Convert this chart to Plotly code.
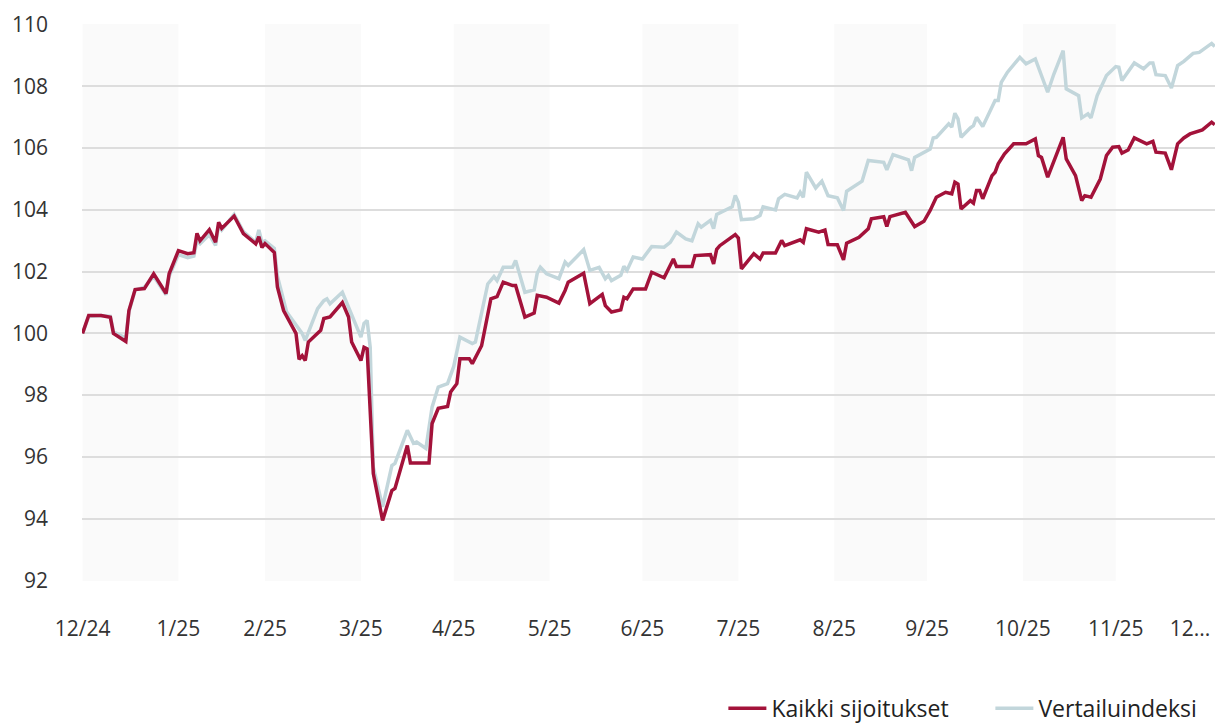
import plotly.graph_objects as go

# ---- data ----
red_dates = [
    "2024-12-31", "2025-01-02", "2025-01-06", "2025-01-09", "2025-01-10", "2025-01-14", "2025-01-15",
    "2025-01-17", "2025-01-20", "2025-01-23", "2025-01-27", "2025-01-28", "2025-01-31", "2025-02-03",
    "2025-02-05", "2025-02-06", "2025-02-07", "2025-02-10", "2025-02-12", "2025-02-13", "2025-02-14",
    "2025-02-18", "2025-02-21", "2025-02-25", "2025-02-26", "2025-02-27", "2025-02-28", "2025-03-03",
    "2025-03-04", "2025-03-06", "2025-03-10", "2025-03-11", "2025-03-12", "2025-03-13", "2025-03-14",
    "2025-03-18", "2025-03-19", "2025-03-21", "2025-03-25", "2025-03-27", "2025-03-28", "2025-03-31",
    "2025-04-01", "2025-04-02", "2025-04-04", "2025-04-07", "2025-04-10", "2025-04-11", "2025-04-15",
    "2025-04-16", "2025-04-22", "2025-04-23", "2025-04-25", "2025-04-28", "2025-04-29", "2025-05-01",
    "2025-05-02", "2025-05-05", "2025-05-06", "2025-05-08", "2025-05-09", "2025-05-12", "2025-05-14",
    "2025-05-16", "2025-05-19", "2025-05-20", "2025-05-23", "2025-05-26", "2025-05-27", "2025-05-30",
    "2025-06-03", "2025-06-05", "2025-06-06", "2025-06-11", "2025-06-13", "2025-06-17", "2025-06-18",
    "2025-06-20", "2025-06-23", "2025-06-24", "2025-06-25", "2025-06-27", "2025-07-01", "2025-07-03",
    "2025-07-07", "2025-07-10", "2025-07-11", "2025-07-16", "2025-07-17", "2025-07-22", "2025-07-23",
    "2025-07-24", "2025-07-25", "2025-07-30", "2025-07-31", "2025-08-01", "2025-08-05", "2025-08-07",
    "2025-08-08", "2025-08-12", "2025-08-14", "2025-08-15", "2025-08-20", "2025-08-21", "2025-08-22",
    "2025-08-26", "2025-08-28", "2025-08-29", "2025-09-01", "2025-09-03", "2025-09-04", "2025-09-08",
    "2025-09-11", "2025-09-12", "2025-09-16", "2025-09-17", "2025-09-18", "2025-09-23", "2025-09-24",
    "2025-09-26", "2025-09-29", "2025-10-01", "2025-10-03", "2025-10-06", "2025-10-08", "2025-10-09",
    "2025-10-10", "2025-10-11", "2025-10-14", "2025-10-15", "2025-10-16", "2025-10-17", "2025-10-18",
    "2025-10-21", "2025-10-22", "2025-10-23", "2025-10-25", "2025-10-28", "2025-11-01", "2025-11-04",
    "2025-11-05", "2025-11-06", "2025-11-08", "2025-11-10", "2025-11-13", "2025-11-14", "2025-11-17",
    "2025-11-19", "2025-11-20", "2025-11-22", "2025-11-25", "2025-11-27", "2025-11-29", "2025-12-01",
    "2025-12-02", "2025-12-04", "2025-12-06", "2025-12-10", "2025-12-12", "2025-12-13", "2025-12-16",
    "2025-12-18", "2025-12-20", "2025-12-22", "2025-12-24", "2025-12-28", "2025-12-31", "2026-01-01",
]
red_values = [
    100.0, 100.58, 100.58, 100.52, 100.0, 99.74, 100.74,
    101.42, 101.45, 101.93, 101.29, 101.93, 102.68, 102.58,
    102.61, 103.24, 103.0, 103.36, 102.95, 103.6, 103.4,
    103.8, 103.23, 102.9, 103.13, 102.78, 102.91, 102.62,
    101.5, 100.74, 100.0, 99.16, 99.28, 99.12, 99.72,
    100.1, 100.48, 100.53, 101.0, 100.53, 99.72, 99.12,
    99.55, 99.5, 95.46, 93.94, 94.91, 94.98, 96.37,
    95.8, 95.8, 97.08, 97.57, 97.63, 98.1, 98.37,
    99.18, 99.18, 99.02, 99.39, 99.6, 101.12, 101.19,
    101.66, 101.55, 101.55, 100.53, 100.66, 101.23, 101.17,
    100.98, 101.39, 101.66, 101.95, 100.96, 101.26, 100.9,
    100.69, 100.76, 101.17, 101.12, 101.44, 101.44, 101.98,
    101.8, 102.41, 102.17, 102.17, 102.52, 102.55, 102.25,
    102.72, 102.84, 103.2, 103.09, 102.09, 102.58, 102.41,
    102.6, 102.6, 103.01, 102.84, 103.03, 102.95, 103.39,
    103.28, 103.35, 102.88, 102.87, 102.38, 102.92, 103.11,
    103.39, 103.71, 103.78, 103.46, 103.78, 103.92, 103.78,
    103.46, 103.63, 103.98, 104.41, 104.57, 104.52, 104.9,
    104.84, 104.03, 104.3, 104.22, 104.63, 104.63, 104.36,
    105.11, 105.22, 105.49, 105.81, 106.14, 106.14, 106.3,
    105.76, 105.7, 105.06, 105.6, 106.35, 105.65, 105.11,
    104.3, 104.46, 104.41, 105.0, 105.76, 106.03, 106.05,
    105.84, 105.94, 106.33, 106.14, 106.22, 105.87, 105.84,
    105.3, 106.14, 106.33, 106.46, 106.59, 106.84, 106.76,
]

blue_dates = [
    "2024-12-31", "2025-01-02", "2025-01-06", "2025-01-09", "2025-01-10", "2025-01-14", "2025-01-15",
    "2025-01-17", "2025-01-20", "2025-01-23", "2025-01-27", "2025-01-28", "2025-01-31", "2025-02-03",
    "2025-02-05", "2025-02-06", "2025-02-07", "2025-02-10", "2025-02-12", "2025-02-13", "2025-02-14",
    "2025-02-18", "2025-02-21", "2025-02-25", "2025-02-26", "2025-02-27", "2025-02-28", "2025-03-03",
    "2025-03-04", "2025-03-06", "2025-03-07", "2025-03-12", "2025-03-13", "2025-03-17", "2025-03-19",
    "2025-03-20", "2025-03-21", "2025-03-25", "2025-03-28", "2025-03-31", "2025-04-01", "2025-04-02",
    "2025-04-03", "2025-04-04", "2025-04-07", "2025-04-10", "2025-04-11", "2025-04-15", "2025-04-17",
    "2025-04-18", "2025-04-21", "2025-04-23", "2025-04-25", "2025-04-28", "2025-04-30", "2025-05-02",
    "2025-05-06", "2025-05-07", "2025-05-11", "2025-05-13", "2025-05-14", "2025-05-16", "2025-05-19",
    "2025-05-20", "2025-05-23", "2025-05-26", "2025-05-27", "2025-05-28", "2025-05-30", "2025-06-03",
    "2025-06-05", "2025-06-06", "2025-06-11", "2025-06-13", "2025-06-16", "2025-06-18", "2025-06-19",
    "2025-06-20", "2025-06-23", "2025-06-24", "2025-06-25", "2025-06-27", "2025-06-30", "2025-07-03",
    "2025-07-07", "2025-07-09", "2025-07-11", "2025-07-14", "2025-07-16", "2025-07-18", "2025-07-19",
    "2025-07-22", "2025-07-23", "2025-07-24", "2025-07-29", "2025-07-30", "2025-07-31", "2025-08-01",
    "2025-08-05", "2025-08-07", "2025-08-08", "2025-08-12", "2025-08-13", "2025-08-15", "2025-08-19",
    "2025-08-20", "2025-08-21", "2025-08-22", "2025-08-25", "2025-08-27", "2025-08-29", "2025-09-01",
    "2025-09-03", "2025-09-04", "2025-09-09", "2025-09-11", "2025-09-16", "2025-09-17", "2025-09-19",
    "2025-09-24", "2025-09-25", "2025-09-26", "2025-10-01", "2025-10-02", "2025-10-03", "2025-10-07",
    "2025-10-08", "2025-10-09", "2025-10-10", "2025-10-11", "2025-10-14", "2025-10-15", "2025-10-16",
    "2025-10-18", "2025-10-22", "2025-10-23", "2025-10-24", "2025-10-26", "2025-10-30", "2025-11-01",
    "2025-11-04", "2025-11-06", "2025-11-08", "2025-11-10", "2025-11-13", "2025-11-14", "2025-11-18",
    "2025-11-19", "2025-11-21", "2025-11-22", "2025-11-24", "2025-11-27", "2025-11-30", "2025-12-01",
    "2025-12-02", "2025-12-06", "2025-12-09", "2025-12-11", "2025-12-12", "2025-12-13", "2025-12-16",
    "2025-12-18", "2025-12-20", "2025-12-22", "2025-12-25", "2025-12-27", "2025-12-31", "2026-01-01",
]
blue_values = [
    100.0, 100.55, 100.58, 100.55, 100.05, 99.85, 100.7,
    101.4, 101.5, 101.85, 101.25, 101.85, 102.55, 102.45,
    102.5, 103.0, 102.9, 103.2, 102.85, 103.5, 103.35,
    103.85, 103.3, 102.95, 103.35, 102.95, 103.0, 102.75,
    101.85, 101.0, 100.69, 100.0, 99.77, 100.8, 101.06,
    101.12, 100.96, 101.33, 100.64, 99.88, 100.32, 100.42,
    99.55, 95.67, 94.38, 95.72, 95.79, 96.86, 96.44,
    96.48, 96.27, 97.61, 98.26, 98.37, 98.93, 99.88,
    99.67, 99.72, 101.6, 101.84, 101.71, 102.14, 102.14,
    102.36, 101.33, 101.41, 101.95, 102.14, 101.93, 101.77,
    102.31, 102.2, 102.71, 102.04, 102.14, 101.77, 101.88,
    101.71, 101.88, 102.17, 102.04, 102.47, 102.41, 102.81,
    102.79, 102.95, 103.28, 103.06, 103.0, 103.55, 103.44,
    103.66, 103.39, 103.85, 104.1, 104.47, 104.25, 103.68,
    103.71, 103.82, 104.1, 104.0, 104.36, 104.5, 104.39,
    104.57, 104.41, 105.22, 104.71, 104.93, 104.46, 104.39,
    103.98, 104.6, 104.93, 105.6, 105.54, 105.3, 105.79,
    105.62, 105.27, 105.7, 105.97, 106.33, 106.35, 106.79,
    106.68, 107.13, 106.95, 106.35, 106.66, 106.73, 107.0,
    106.7, 107.54, 107.54, 108.13, 108.46, 108.94, 108.73,
    108.89, 108.35, 107.81, 108.4, 109.16, 107.92, 107.7,
    106.98, 107.11, 106.98, 107.7, 108.35, 108.64, 108.62,
    108.19, 108.76, 108.57, 108.76, 108.76, 108.38, 108.35,
    107.95, 108.67, 108.81, 109.07, 109.1, 109.39, 109.29,
]

month_ends = [
    "2024-12-31", "2025-01-31", "2025-02-28", "2025-03-31", "2025-04-30", "2025-05-31",
    "2025-06-30", "2025-07-31", "2025-08-31", "2025-09-30", "2025-10-31", "2025-11-30", "2025-12-24",
]
month_labels = ["12/24", "1/25", "2/25", "3/25", "4/25", "5/25", "6/25", "7/25", "8/25",
                "9/25", "10/25", "11/25", "12..."]
shaded_months = [("2024-12-31", "2025-01-31"), ("2025-02-28", "2025-03-31"),
                 ("2025-04-30", "2025-05-31"), ("2025-06-30", "2025-07-31"),
                 ("2025-08-31", "2025-09-30"), ("2025-10-31", "2025-11-30")]
y_ticks = [92, 94, 96, 98, 100, 102, 104, 106, 108, 110]

RED = "#A3123A"
BLUE = "#C2D6DB"
FONT = "Open Sans"

fig = go.Figure()
fig.add_trace(go.Scatter(x=blue_dates, y=blue_values, mode="lines", name="Vertailuindeksi",
                         line=dict(color=BLUE, width=3.5)))
fig.add_trace(go.Scatter(x=red_dates, y=red_values, mode="lines", name="Kaikki sijoitukset",
                         line=dict(color=RED, width=3.5), legendwidth=214))

for a, b in shaded_months:
    fig.add_shape(type="rect", xref="x", yref="paper", x0=a, x1=b, y0=0, y1=1,
                  fillcolor="#FAFAFA", line=dict(width=0), layer="below")

fig.update_layout(
    width=1225, height=725,
    margin=dict(l=74, r=18, t=16, b=152),
    paper_bgcolor="white", plot_bgcolor="white",
    font=dict(family=FONT, size=21, color="#333333"),
    showlegend=True,
    legend=dict(orientation="h", xref="container", yref="container",
                x=0.975, xanchor="right", y=0.034, yanchor="middle",
                traceorder="reversed", font=dict(size=23, color="#222222"),
                itemwidth=38),
)
fig.update_xaxes(
    type="date", range=["2024-12-30 20:00", "2026-01-01 02:00"],
    tickmode="array", tickvals=month_ends, ticktext=month_labels,
    showgrid=False, zeroline=False, showline=False, ticks="",
    ticklabelstandoff=33, automargin=False,
)
fig.update_yaxes(
    range=[91.98, 110.02], tickmode="array", tickvals=y_ticks,
    showgrid=True, gridcolor="#DDDDDD", gridwidth=2, zeroline=False, showline=False,
    ticks="", ticklabelstandoff=33, automargin=False,
)

fig.write_html("out.html")
